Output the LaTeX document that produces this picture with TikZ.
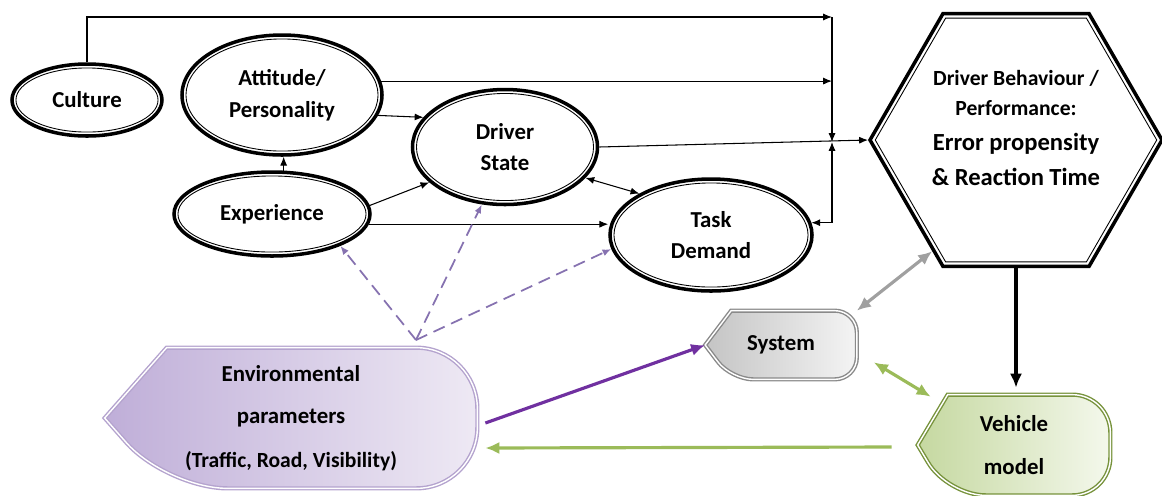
\documentclass[tikz,border=0pt]{standalone}
\usepackage{fontspec}
\setmainfont{Carlito}
\usetikzlibrary{shapes.geometric,backgrounds,arrows.meta}
\definecolor{envdark}{HTML}{BFAED8}
\definecolor{envlight}{HTML}{EEE9F4}
\definecolor{envline}{HTML}{B4A3CE}
\definecolor{sysdark}{HTML}{C4C4C4}
\definecolor{syslight}{HTML}{F4F4F4}
\definecolor{sysline}{HTML}{8A8A8A}
\definecolor{vehdark}{HTML}{C5D8A0}
\definecolor{vehlight}{HTML}{F4F8EC}
\definecolor{vehline}{HTML}{77933C}
\definecolor{envdash}{HTML}{8672B0}
\definecolor{envarrow}{HTML}{7030A0}
\definecolor{vehgreen}{HTML}{9BBB59}
\definecolor{sysgray}{HTML}{A0A0A0}
\begin{document}
\begin{tikzpicture}[x=0.02cm,y=-0.02cm,>={Latex[length=5pt,width=4pt]}]
\tikzstyle{every node} = [font=\bfseries\fontsize{13}{18}\selectfont, align=center];
\tikzstyle{oval} = [ellipse, draw, line width=2pt, inner sep=0];
\tikzstyle{ring} = [ellipse, draw, line width=0.5pt];
\tikzstyle{link} = [->, line width=0.6pt];
\tikzstyle{envdash} = [->, dash pattern=on 7pt off 4pt, color=envdash, line width=1pt];
\tikzstyle{fat} = [line width=1.8pt, -{Latex[length=8pt,width=7pt]}];
\useasboundingbox (0,0) rectangle (1162,495);
% ovals, each with a thin ring inside
\foreach \n/\x/\y/\w/\h/\t in {cult/87/100/150/72/Culture, att/282/95/200/120/{Attitude/\\Personality}, ds/505/147/185/115/{Driver\\State}, exp/272/214/196/84/Experience, task/711/235/202/112/{Task\\Demand}}{
	\node[oval, minimum width=\w*0.02cm, minimum height=\h*0.02cm] (\n) at (\x,\y) {\t};
	\node[ring, minimum width=\w*0.02cm-4.5pt, minimum height=\h*0.02cm-4.5pt] at (\n) {};
}
\node[regular polygon, regular polygon sides=6, draw, line width=2pt, minimum size=292*0.02cm] (hex) at (1016,140) {};
\node[regular polygon, regular polygon sides=6, draw, line width=0.5pt, minimum size=292*0.02cm-6pt] at (hex) {};
\node[font=\bfseries\fontsize{14}{19}\selectfont] (hextxt) at (1016,128) {{\fontsize{12.3}{14}\selectfont Driver Behaviour /}\\[-2pt]{\fontsize{12.3}{14}\selectfont Performance:}\\[1pt]Error propensity\\[1pt]\& Reaction Time};
\node[minimum width=372*0.02cm, minimum height=140*0.02cm] (env) at (291,418) {Environmental\\[6pt]parameters\\[7pt]{\fontsize{12.3}{14}\selectfont (Traffic, Road, Visibility)}};
\node[minimum width=151*0.02cm, minimum height=68*0.02cm] (sys) at (781,345) {System};
\node[minimum width=192*0.02cm, minimum height=100*0.02cm] (veh) at (1014,445) {Vehicle\\[6pt]model};
\begin{scope}[on background layer]
\foreach \n/\tip/\bend/\dark/\light/\edge in {env/62/61/envdark/envlight/envline, sys/26/22/sysdark/syslight/sysline, veh/30/38/vehdark/vehlight/vehline}{
	\draw[left color=\dark, right color=\light, draw=\edge, double=white, double distance=0.8pt, line width=0.8pt]
	(\n.west) -- ([xshift=\tip*0.02cm]\n.north west) [rounded corners=\bend*0.02cm] -- (\n.north east) -- (\n.south east)
	-- ([xshift=\tip*0.02cm]\n.south west) [sharp corners] -- cycle;
}
\end{scope}
% lines into the vertical bar
\coordinate (jtop) at (832,17);
\coordinate (jmid) at (832,142);
\coordinate (jlow) at (task.7 -| jtop);
\draw[link] (cult.north) |- (jtop);
\draw[link] (att.8) -- (att.8 -| jtop);
\draw[link] (jtop) -- (jmid);
\draw[link] (jlow) -- (jmid);
\draw[link] (jlow) -- (task.7);
\draw[link] (ds.east) -- (hex.west);
\foreach \a/\b in {att.-12/ds.160, exp.5/ds.205}{
	\draw[link] (\a) -- (\b);
}
\draw[link] (exp.75) -- (exp.75 |- att.south);
\draw[link] (exp.-6) -- (exp.-6 -| task.west);
\draw[link, <->] (ds.-21) -- (task.150);
\coordinate (fan) at (416,340);
\foreach \t in {exp.-25, ds.-112, task.-172}{
	\draw[envdash] (fan) -- (\t);
}
\draw[fat, line width=2.3pt, shorten >=4pt] (hex.south) -- (hex.south |- veh.north);
\draw[fat, sysgray, {Latex[length=8pt,width=7pt]}-{Latex[length=8pt,width=7pt]}] (sys.north east) -- (hex.-127);
\draw[fat, vehgreen, {Latex[length=8pt,width=7pt]}-{Latex[length=8pt,width=7pt]}] ([shift={(17,-17)}]sys.south east) -- ([shift={(13,2)}]veh.north west);
\draw[fat, envarrow] ([shift={(8,5)}]env.east) -- (sys.west);
\draw[fat, vehgreen] ([shift={(-26,2)}]veh.west) -- ([shift={(8,30)}]env.east);
\end{tikzpicture}
\end{document}
